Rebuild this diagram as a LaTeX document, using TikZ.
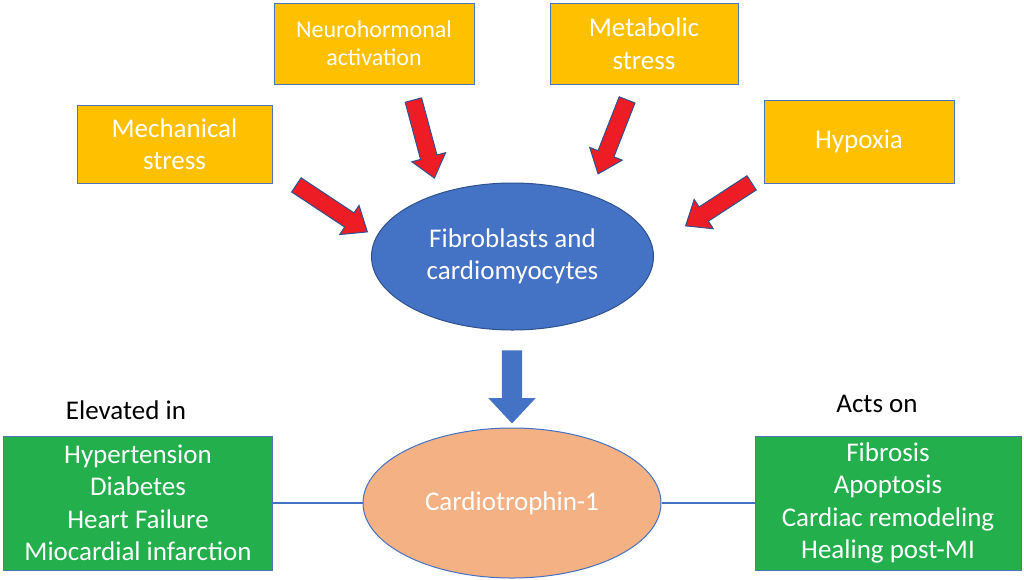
\documentclass[tikz,border=0pt]{standalone}
\usepackage{fontspec}
\setmainfont{Carlito}
\usetikzlibrary{shapes.geometric,shapes.arrows,calc}
\definecolor{gold}{HTML}{FFC000}
\definecolor{boxborder}{HTML}{4F74B8}
\definecolor{officeblue}{HTML}{4472C4}
\definecolor{darkblue}{HTML}{2F528F}
\definecolor{boxgreen}{HTML}{22AF4C}
\definecolor{peach}{HTML}{F4B183}
\definecolor{arrowred}{HTML}{EE1C25}
\begin{document}
\begin{tikzpicture}[x=1pt,y=-1pt,
  txt/.style={font=\fontsize{27}{32.5}\selectfont, align=center},
  goldbox/.style={txt, draw=boxborder, fill=gold, line width=1pt, text=white, inner sep=0pt},
  greenbox/.style={txt, draw=boxborder, fill=boxgreen, line width=1pt, text=white, inner sep=0pt, minimum width=269pt, minimum height=134pt},
  redarrow/.style={single arrow, draw=darkblue, fill=arrowred, line width=1pt, inner xsep=0pt, inner ysep=8pt, single arrow head extend=9pt, single arrow tip angle=78, sloped, allow upside down},
  bluearrow/.style={single arrow, draw=none, fill=officeblue, inner xsep=0pt, inner ysep=10pt, single arrow head extend=13.5pt, single arrow tip angle=86, sloped, allow upside down},
  link/.style={draw=officeblue, line width=1.5pt}]
\useasboundingbox (0,0) rectangle (1024,579);
% source boxes
\node[goldbox, minimum width=200pt, minimum height=81pt, font=\fontsize{24}{28}\selectfont] (neuro) at (374,43.5) {Neurohormonal\\activation};
\node[goldbox, minimum width=188pt, minimum height=81pt] (meta) at (644,43.5) {Metabolic\\stress};
\node[goldbox, minimum width=195pt, minimum height=78pt] (mech) at (174.5,144) {Mechanical\\stress};
\node[goldbox, minimum width=190pt, minimum height=83pt] (hyp) at (859,141.5) {Hypoxia};
% cells
\node[ellipse, txt, fill=officeblue, draw=darkblue, line width=1pt, text=white, minimum width=282pt, minimum height=147pt, inner sep=0pt] (cells) at (512.5,256.5) {Fibroblasts and\\cardiomyocytes};
% cardiotrophin
\node[ellipse, txt, fill=peach, draw=officeblue, line width=1pt, text=white, minimum width=298pt, minimum height=150pt, inner sep=0pt] (ct) at (512,503) {Cardiotrophin-1};
% green boxes
\node[greenbox] (elev) at (138,503) {Hypertension\\Diabetes\\Heart Failure\\Miocardial infarction};
\node[greenbox, minimum width=266pt] (acts) at (888,503) {Fibrosis\\Apoptosis\\Cardiac remodeling\\Healing post-MI};
\node[txt, text=black] (elevl) at (126,410) {Elevated in};
\node[txt, text=black] (actsl) at (877,404) {Acts on};
% links
\draw[link] (elev.east) -- (ct.west);
\draw[link] (ct.east) -- (acts.west);
% red arrows
\coordinate (mechA) at (292,182); \coordinate (mechB) at (363,229);
\coordinate (neuroA) at (412,95); \coordinate (neuroB) at (433,173);
\coordinate (metaA) at (629,95); \coordinate (metaB) at (600,169);
\coordinate (hypA) at (756,180); \coordinate (hypB) at (690,223);
\foreach \a/\b in {mechA/mechB, neuroA/neuroB, metaA/metaB, hypA/hypB}{
  \path let \p1=($(\b)-(\a)$), \n1={veclen(\x1,\y1)} in (\a) -- node[redarrow, minimum height=\n1] {} (\b);
}
% blue arrow
\coordinate (downA) at (512,345); \coordinate (downB) at (512,418);
\path let \p1=($(downB)-(downA)$), \n1={veclen(\x1,\y1)} in (downA) -- node[bluearrow, minimum height=\n1] {} (downB);
\end{tikzpicture}
\end{document}
